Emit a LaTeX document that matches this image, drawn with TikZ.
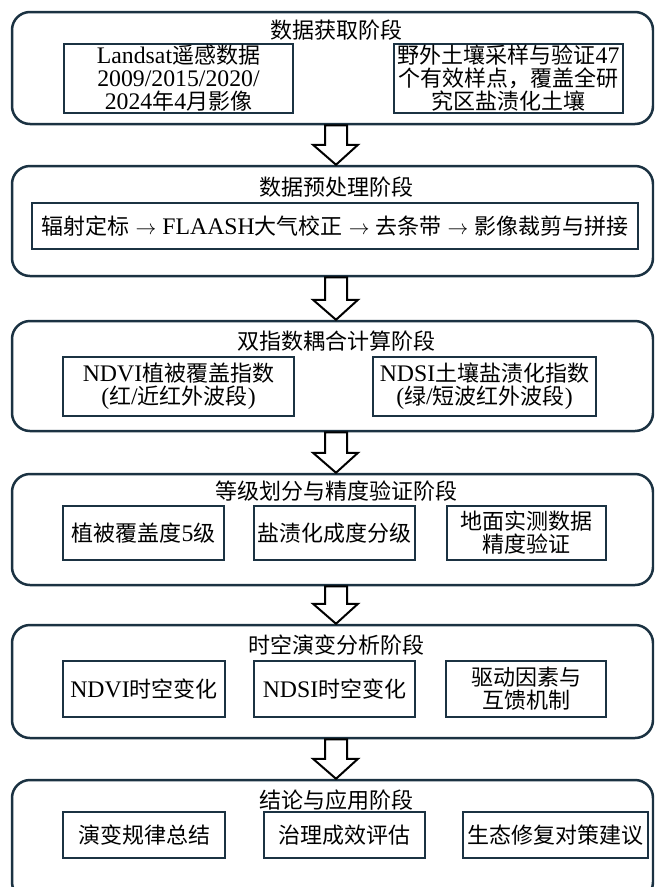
\documentclass[tikz,border=0pt]{standalone}
\usepackage{fontspec}
\setmainfont{Noto Sans CJK SC}
\newfontfamily\en[Scale=1.08]{Liberation Serif}
\usetikzlibrary{calc}
\definecolor{edge}{HTML}{1B3242}
\newcommand\stagearrow[2]{%
  \filldraw[barrow] ($(#1.south)+(-7.5,0)$) -- ($(#2.north)+(-7.5,-20)$) -- ($(#2.north)+(-19.5,-20)$)
    -- ($(#2.north)+(3.5,0)$) -- ($(#2.north)+(25.5,-20)$) -- ($(#2.north)+(14.5,-20)$)
    -- ($(#1.south)+(14.5,0)$) -- cycle;}
\newcommand\ar{\hspace{6pt}$\rightarrow$\hspace{6pt}}
\begin{document}
\begin{tikzpicture}[x=1pt,y=-1pt,
  stage/.style={draw=edge,line width=2.5pt,rounded corners=18pt,fill=white,inner sep=0pt,minimum width=641pt},
  sub/.style={draw=edge,line width=2.7pt,fill=white,inner sep=0pt,align=center,
    font=\fontsize{22}{23}\selectfont},
  ttl/.style={inner sep=0pt,font=\fontsize{22}{23}\selectfont},
  barrow/.style={draw=black,line width=2pt,fill=white,line join=miter}]
\useasboundingbox (0,0) rectangle (654,887);
\clip (0,0) rectangle (654,887);

% stages
\node[stage,minimum height=112pt] (s1) at (332.5,68) {};
\node[stage,minimum height=110pt] (s2) at (332.5,221) {};
\node[stage,minimum height=110pt] (s3) at (332.5,376) {};
\node[stage,minimum height=111pt] (s4) at (332.5,529.5) {};
\node[stage,minimum height=113pt] (s5) at (332.5,681.5) {};
\node[stage,minimum height=120pt] (s6) at (332.5,840) {};

% titles
\node[ttl] (t1) at (336,30) {数据获取阶段};
\node[ttl] (t2) at (336,187) {数据预处理阶段};
\node[ttl] (t3) at (336,341) {双指数耦合计算阶段};
\node[ttl] (t4) at (336,491) {等级划分与精度验证阶段};
\node[ttl] (t5) at (336,645) {时空演变分析阶段};
\node[ttl] (t6) at (336,800) {结论与应用阶段};

% stage 1
\node[sub,minimum width=229pt,minimum height=69pt] (b11) at (178.5,78.5)
  {{\en Landsat}遥感数据\\{\en 2009/2015/2020/}\\{\en 2024}年{\en 4}月影像};
\node[sub,minimum width=229pt,minimum height=69pt] (b12) at (508.5,78.5)
  {野外土壤采样与验证{\en 47}\\个有效样点，覆盖全研\\究区盐渍化土壤};
% stage 2
\node[sub,minimum width=606pt,minimum height=46pt] (b21) at (335,226)
  {辐射定标\ar{\en FLAASH}大气校正\ar 去条带\ar 影像裁剪与拼接};
% stage 3
\node[sub,minimum width=231pt,minimum height=59pt] (b31) at (178.5,386.5)
  {{\en NDVI}植被覆盖指数\\{\en (}红{\en /}近红外波段{\en )}};
\node[sub,minimum width=223pt,minimum height=59pt] (b32) at (484.5,386.5)
  {{\en NDSI}土壤盐渍化指数\\{\en (}绿{\en /}短波红外波段{\en )}};
% stage 4
\node[sub,minimum width=161pt,minimum height=54pt] (b41) at (143.5,533) {植被覆盖度{\en 5}级};
\node[sub,minimum width=161pt,minimum height=54pt] (b42) at (334.5,533) {盐渍化成度分级};
\node[sub,minimum width=159pt,minimum height=54pt] (b43) at (526.5,533) {地面实测数据\\精度验证};
% stage 5
\node[sub,minimum width=162pt,minimum height=56pt] (b51) at (144,689) {{\en NDVI}时空变化};
\node[sub,minimum width=161pt,minimum height=56pt] (b52) at (334.5,689) {{\en NDSI}时空变化};
\node[sub,minimum width=160pt,minimum height=56pt] (b53) at (526,689) {驱动因素与\\互馈机制};
% stage 6
\node[sub,minimum width=162pt,minimum height=46pt] (b61) at (144,835) {演变规律总结};
\node[sub,minimum width=161pt,minimum height=46pt] (b62) at (344.5,835) {治理成效评估};
\node[sub,minimum width=185pt,minimum height=46pt] (b63) at (555.5,835) {生态修复对策建议};

% arrows
\stagearrow{s1}{s2}
\stagearrow{s2}{s3}
\stagearrow{s3}{s4}
\stagearrow{s4}{s5}
\stagearrow{s5}{s6}
\end{tikzpicture}
\end{document}
